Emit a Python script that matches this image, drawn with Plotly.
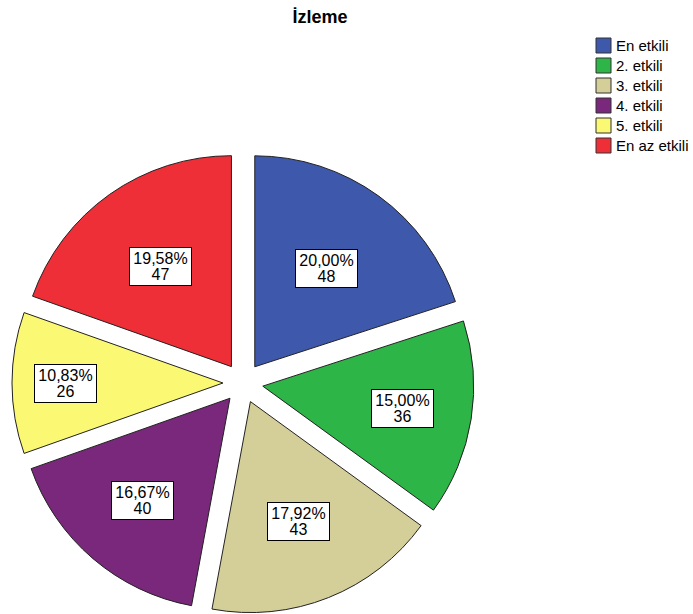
import math
import plotly.graph_objects as go

# Survey results: "İzleme"
categories = ["En etkili", "2. etkili", "3. etkili", "4. etkili", "5. etkili", "En az etkili"]
counts = [48, 36, 43, 40, 26, 47]
colors = ["#3E58AB", "#2EB548", "#D4CE98", "#79287B", "#FBF873", "#EF2F38"]

W, H = 693, 614
PULL = 0.095
FONT = "Liberation Sans, Arial"

# Pie box in pixels (centre and half-size including the exploded slices)
cx, cy, half = 243, 383, 231
radius = half / (1 + PULL)

fig = go.Figure()
fig.add_trace(go.Pie(
    labels=categories,
    values=counts,
    marker=dict(colors=colors, line=dict(color="#222222", width=1)),
    sort=False,
    direction="clockwise",
    rotation=0,
    pull=[PULL] * len(counts),
    textinfo="none",
    hoverinfo="label+value+percent",
    showlegend=False,
    domain=dict(x=[(cx - half) / W, (cx + half) / W],
                y=[(H - (cy + half)) / H, (H - (cy - half)) / H]),
))

# Boxed value labels placed inside each slice
total = sum(counts)
annotations = []
start = 0.0
for n in counts:
    width_deg = 360.0 * n / total
    mid = math.radians(start + width_deg / 2)
    start += width_deg
    dist = radius * (0.732 - 0.0052 * (width_deg - 60))
    px = cx + dist * math.sin(mid)
    py = cy - dist * math.cos(mid)
    pct = f"{100 * n / total:.2f}".replace(".", ",") + "%"
    # smaller base size keeps the two lines close; spans carry the visible size
    txt = (f"<span style='font-size:16px'>{pct}</span><br>"
           f"<span style='font-size:16px'>{n}</span>")
    annotations.append(dict(
        x=px / W, y=(H - py) / H, xref="paper", yref="paper",
        text=txt, showarrow=False,
        font=dict(family=FONT, size=12.5, color="black"),
        bgcolor="white", bordercolor="black", borderwidth=1, borderpad=0,
        width=61, height=37,
        xanchor="center", yanchor="middle",
    ))

# Legend: framed colour squares with category names
shapes = []
lx, ly, box, step = 596, 38, 15, 20
for i, (name, col) in enumerate(zip(categories, colors)):
    top = ly + i * step
    shapes.append(dict(
        type="rect", xref="paper", yref="paper",
        x0=lx / W, x1=(lx + box) / W,
        y0=(H - top - box) / H, y1=(H - top) / H,
        fillcolor=col, line=dict(color="#333333", width=1),
    ))
    annotations.append(dict(
        x=(lx + box + 3) / W, y=(H - top - box / 2) / H,
        xref="paper", yref="paper", text=name, showarrow=False,
        xanchor="left", yanchor="middle",
        font=dict(family=FONT, size=15, color="black"),
    ))

fig.update_layout(
    width=W, height=H,
    margin=dict(l=0, r=0, t=0, b=0),
    paper_bgcolor="white", plot_bgcolor="white",
    title=dict(text="<b>İzleme</b>", x=320 / W, xanchor="center",
               y=1 - 17 / H, yanchor="middle",
               font=dict(family=FONT, size=18, color="black")),
    annotations=annotations,
    shapes=shapes,
)

fig.write_html("out.html")
